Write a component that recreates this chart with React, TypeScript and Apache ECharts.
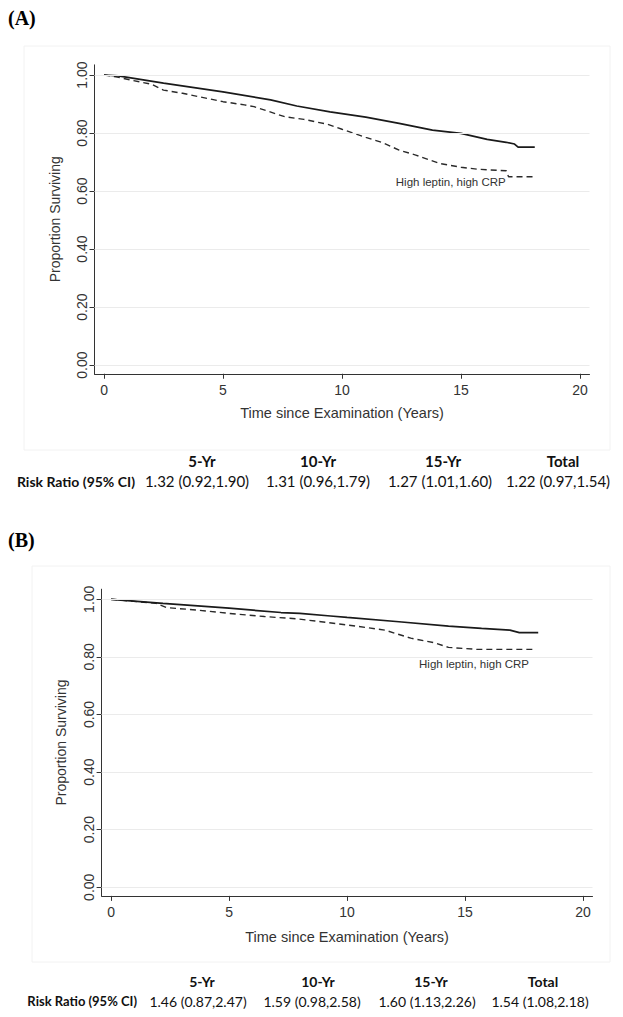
import React, { useEffect, useRef } from "react";
import * as echarts from "echarts";

// ---- tick values ----
const yTicks = [0, 0.2, 0.4, 0.6, 0.8, 1.0];
const xTicks = [0, 5, 10, 15, 20];

// ---- Panel A: Kaplan-Meier survival (time in years, proportion surviving) ----
const panelAOther: [number, number][] = [
  [0, 1.0], [0.6, 0.997], [2.5, 0.972], [5.0, 0.942], [7.0, 0.914], [8.1, 0.893],
  [9.5, 0.873], [10.0, 0.867], [11.0, 0.855], [12.4, 0.833], [13.8, 0.81],
  [15.0, 0.799], [16.1, 0.778], [16.9, 0.768], [17.25, 0.762], [17.4, 0.751], [18.1, 0.751],
];
const panelAHighHigh: [number, number][] = [
  [0, 1.0], [0.5, 0.994], [1.1, 0.983], [2.0, 0.968], [2.5, 0.948], [3.3, 0.937],
  [5.0, 0.908], [5.9, 0.897], [6.3, 0.891], [7.6, 0.856], [8.4, 0.847], [9.4, 0.83],
  [10.0, 0.813], [11.0, 0.785], [11.7, 0.767], [12.4, 0.741], [13.1, 0.724],
  [14.1, 0.695], [15.0, 0.682], [15.7, 0.675], [16.9, 0.67], [17.0, 0.649], [18.1, 0.649],
];

// ---- Panel B ----
const panelBOther: [number, number][] = [
  [0, 1.0], [2.2, 0.986], [5.0, 0.969], [7.2, 0.954], [8.0, 0.951], [9.3, 0.942],
  [10.0, 0.937], [12.2, 0.922], [14.3, 0.907], [15.7, 0.899], [16.9, 0.893],
  [17.3, 0.884], [18.1, 0.884],
];
const panelBHighHigh: [number, number][] = [
  [0, 1.0], [1.1, 0.992], [1.9, 0.986], [2.35, 0.971], [3.6, 0.963], [5.0, 0.951],
  [6.5, 0.94], [7.9, 0.932], [8.9, 0.922], [10.0, 0.911], [11.6, 0.893], [12.7, 0.865],
  [13.7, 0.849], [14.3, 0.833], [15.5, 0.826], [18.0, 0.826],
];

// annotation label anchors (data coordinates)
const annotText = "High leptin, high CRP";
const annotA: [number, number] = [14.57, 0.631];
const annotB: [number, number] = [15.38, 0.775];

// ---- Risk ratio tables ----
const tableCols = ["5-Yr", "10-Yr", "15-Yr", "Total"];
const rowLabel = "Risk Ratio (95% CI)";
const riskA = ["1.32 (0.92,1.90)", "1.31 (0.96,1.79)", "1.27 (1.01,1.60)", "1.22 (0.97,1.54)"];
const riskB = ["1.46 (0.87,2.47)", "1.59 (0.98,2.58)", "1.60 (1.13,2.26)", "1.54 (1.08,2.18)"];

const SANS = "'Liberation Sans', Arial, sans-serif";
const TABLE_FONT = "Lato, 'Open Sans', sans-serif";
const AXIS_COLOR = "#333";

function makeAxes(gi: number, nameGapX: number, nameGapY: number) {
  const x = {
    gridIndex: gi,
    type: "value",
    min: -0.4,
    max: 20.4,
    axisLine: { show: true, onZero: false, lineStyle: { color: AXIS_COLOR, width: 1 } },
    axisTick: { show: true, customValues: xTicks, length: 5, lineStyle: { color: AXIS_COLOR } },
    axisLabel: {
      customValues: xTicks,
      margin: 9,
      fontFamily: SANS,
      fontSize: 14,
      color: "#333",
      formatter: (v: number) => String(v),
    },
    splitLine: { show: false },
    name: "Time since Examination (Years)",
    nameLocation: "middle",
    nameGap: nameGapX,
    nameTextStyle: { fontFamily: SANS, fontSize: 14.5, color: "#333" },
  };
  const y = {
    gridIndex: gi,
    type: "value",
    min: -0.03,
    max: 1.035,
    axisLine: { show: true, onZero: false, lineStyle: { color: AXIS_COLOR, width: 1 } },
    axisTick: { show: true, customValues: yTicks, length: 5, lineStyle: { color: AXIS_COLOR } },
    axisLabel: {
      customValues: yTicks,
      rotate: 90,
      margin: 6,
      fontFamily: SANS,
      fontSize: 14,
      color: "#333",
      formatter: (v: number) => v.toFixed(2),
    },
    splitLine: { show: false },
    name: "Proportion Surviving",
    nameLocation: "middle",
    nameRotate: 90,
    nameGap: nameGapY,
    nameTextStyle: { fontFamily: SANS, fontSize: 14, color: "#333" },
  };
  return { x, y };
}

function makeSeries(gi: number, other: [number, number][], high: [number, number][], annot: [number, number]) {
  return [
    {
      type: "line",
      xAxisIndex: gi,
      yAxisIndex: gi,
      data: high,
      showSymbol: false,
      symbol: "none",
      lineStyle: { color: "#2a2a2a", width: 1.4, type: [6, 4] },
      markLine: {
        silent: true,
        symbol: ["none", "none"],
        label: { show: false },
        lineStyle: { color: "#ebebeb", width: 1, type: "solid" },
        data: yTicks.map((v) => ({ yAxis: v })),
      },
      markPoint: {
        silent: true,
        symbol: "circle",
        symbolSize: 1,
        itemStyle: { color: "rgba(0,0,0,0)" },
        label: {
          show: true,
          position: "inside",
          formatter: annotText,
          fontFamily: SANS,
          fontSize: 11.5,
          color: "#333",
        },
        data: [{ coord: annot }],
      },
    },
    {
      type: "line",
      xAxisIndex: gi,
      yAxisIndex: gi,
      data: other,
      showSymbol: false,
      symbol: "none",
      lineStyle: { color: "#1a1a1a", width: 1.7 },
    },
  ];
}

function tableGraphics(
  top: number,
  labelRight: number,
  headCenters: number[],
  valCenters: number[],
  values: string[],
  size: number,
  labelSize: number
) {
  const els: any[] = [];
  tableCols.forEach((c, i) => {
    els.push({
      type: "text",
      x: headCenters[i],
      y: top,
      style: { text: c, fontFamily: TABLE_FONT, fontWeight: "bold", fontSize: size, fill: "#111", align: "center", verticalAlign: "middle" },
    });
  });
  els.push({
    type: "text",
    x: labelRight,
    y: top + 20,
    style: { text: rowLabel, fontFamily: TABLE_FONT, fontWeight: "bold", fontSize: labelSize, fill: "#111", align: "right", verticalAlign: "middle" },
  });
  values.forEach((v, i) => {
    els.push({
      type: "text",
      x: valCenters[i],
      y: top + 20,
      style: { text: v, fontFamily: TABLE_FONT, fontSize: size, fill: "#111", align: "center", verticalAlign: "middle" },
    });
  });
  return els;
}

export default function App() {
  const ref = useRef<HTMLDivElement>(null);
  useEffect(() => {
    if (!ref.current) return;
    const chart = echarts.init(ref.current, undefined, { renderer: "svg" });
    const a = makeAxes(0, 32, 33);
    const b = makeAxes(1, 34, 34);
    chart.setOption({
      animation: false,
      backgroundColor: "#ffffff",
      grid: [
        { left: 94.5, top: 64.85, width: 495, height: 308.9 },
        { left: 101.6, top: 589.2, width: 490.9, height: 306.7 },
      ],
      xAxis: [a.x, b.x],
      yAxis: [a.y, b.y],
      series: [
        ...makeSeries(0, panelAOther, panelAHighHigh, annotA),
        ...makeSeries(1, panelBOther, panelBHighHigh, annotB),
      ],
      graphic: [
        { type: "rect", silent: true, z: -10, shape: { x: 24, y: 46, width: 586, height: 404 }, style: { fill: "none", stroke: "#f2f2f2", lineWidth: 1 } },
        { type: "rect", silent: true, z: -10, shape: { x: 32, y: 566, width: 578, height: 396 }, style: { fill: "none", stroke: "#f2f2f2", lineWidth: 1 } },
        { type: "text", x: 8, y: 18, style: { text: "(A)", fontFamily: "'Liberation Serif', 'Times New Roman', serif", fontWeight: "bold", fontSize: 20, fill: "#000", verticalAlign: "middle" } },
        { type: "text", x: 8, y: 540, style: { text: "(B)", fontFamily: "'Liberation Serif', 'Times New Roman', serif", fontWeight: "bold", fontSize: 20, fill: "#000", verticalAlign: "middle" } },
        ...tableGraphics(461, 135, [202, 318, 443, 563], [197, 318, 440, 558], riskA, 15, 14),
        ...tableGraphics(981, 137, [202, 318, 431, 543], [198, 312, 427, 540], riskB, 14, 13),
      ],
    });
    return () => chart.dispose();
  }, []);
  return (
    <div
      ref={ref}
      style={{ position: "absolute", left: 0, top: 0, width: 623, height: 1017, background: "#fff" }}
    />
  );
}
